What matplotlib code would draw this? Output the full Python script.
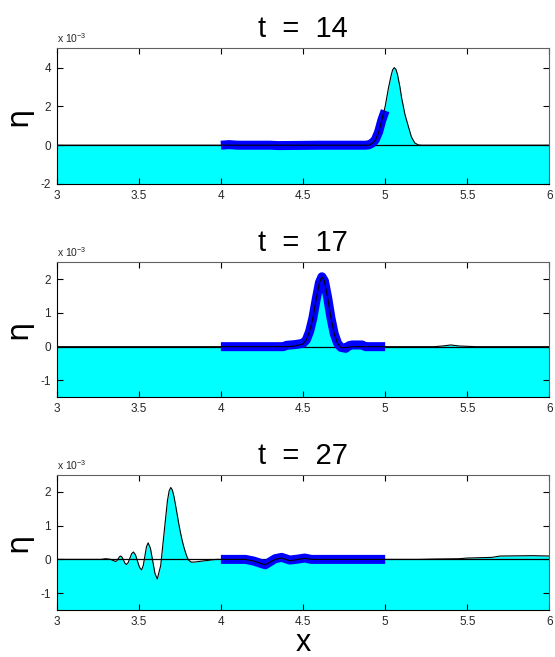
import matplotlib
matplotlib.use("Agg")
import matplotlib.pyplot as plt

plt.rcParams['font.family'] = ['Liberation Sans', 'DejaVu Sans']
plt.rcParams['mathtext.default'] = 'regular'

# surface elevation eta (units of 1e-3) at three times
x14 = [3.0, 4.90, 4.92, 4.94, 4.96, 4.98, 5.00, 5.02, 5.035, 5.045, 5.055, 5.065,
       5.075, 5.09, 5.10, 5.12, 5.14, 5.16, 5.18, 5.20, 5.22, 6.0]
eta14 = [0, 0, 0.08, 0.25, 0.65, 1.3, 2.0, 2.95, 3.55, 3.88, 4.0, 3.92,
         3.65, 3.0, 2.45, 1.6, 1.0, 0.42, 0.12, 0.02, 0, 0]

x17 = [3.0, 4.40, 4.45, 4.50, 4.52, 4.54, 4.56, 4.58, 4.60, 4.615, 4.63, 4.65,
       4.67, 4.69, 4.71, 4.73, 4.76, 4.80, 5.30, 5.35, 5.40, 5.45, 5.55, 6.0]
eta17 = [0, 0, 0.02, 0.08, 0.2, 0.45, 0.85, 1.4, 1.9, 2.07, 1.95, 1.45,
         0.85, 0.38, 0.1, -0.02, -0.03, 0, 0, 0.02, 0.05, 0.02, 0, 0]

x27 = [3.0, 3.27, 3.30, 3.33, 3.345, 3.36, 3.3675, 3.375, 3.3825, 3.39,
       3.399, 3.4075, 3.416, 3.425, 3.4355, 3.446, 3.4565, 3.467,
       3.4795, 3.492, 3.5045, 3.517, 3.527, 3.537, 3.547, 3.557,
       3.571, 3.585, 3.599, 3.613, 3.6335, 3.654, 3.6745, 3.685, 3.695,
       3.705, 3.715, 3.725, 3.735, 3.745, 3.755, 3.765, 3.775, 3.785, 3.795,
       3.805, 3.82, 3.84, 3.87, 3.92, 3.97,
       4.15, 4.20, 4.27, 4.33, 4.37, 4.42, 4.47, 4.51, 4.55,
       5.2, 5.3, 5.45, 5.5, 5.65, 5.7, 5.9, 6.0]
eta27 = [0, 0, 0.02, 0.0, -0.035, -0.06, -0.037, 0.02, 0.077, 0.10,
         0.063, -0.025, -0.113, -0.15, -0.096, 0.035, 0.166, 0.22,
         0.143, -0.045, -0.233, -0.31, -0.193, 0.09, 0.373, 0.49,
         0.334, -0.045, -0.424, -0.58, -0.184, 0.775, 1.734, 2.03, 2.13,
         2.05, 1.85, 1.58, 1.3, 1.02, 0.77, 0.55, 0.36, 0.2, 0.06,
         -0.03, -0.08, -0.08, -0.06, -0.03, 0,
         0, -0.05, -0.16, 0, 0.04, -0.04, 0, 0.03, 0,
         0, 0.01, 0.02, 0.04, 0.06, 0.1, 0.11, 0.1]

# thick blue segment on 4 <= x <= 5
bx14 = [4.0, 4.05, 4.1, 4.3, 4.35, 4.6, 4.88, 4.90, 4.92, 4.94, 4.96, 4.98, 5.0]
by14 = [0.0, 0.03, 0.0, 0.0, -0.02, 0.0, 0.0, 0.02, 0.1, 0.28, 0.68, 1.3, 1.78]

bx17 = [4.0, 4.38, 4.40, 4.45, 4.50, 4.52, 4.54, 4.56, 4.58, 4.60, 4.615, 4.63,
        4.65, 4.67, 4.69, 4.71, 4.73, 4.76, 4.78, 4.80, 4.86, 4.88, 5.0]
by17 = [0, 0, 0.04, 0.06, 0.1, 0.2, 0.45, 0.85, 1.4, 1.9, 2.07, 1.95,
        1.45, 0.85, 0.38, 0.1, -0.02, -0.05, 0.03, 0.05, 0.05, 0.0, 0.0]

bx27 = [4.0, 4.15, 4.20, 4.27, 4.33, 4.37, 4.42, 4.47, 4.51, 4.55, 4.7, 5.0]
by27 = [0, 0, -0.05, -0.16, 0.02, 0.06, -0.02, 0.01, 0.04, 0.0, 0.0, 0.0]

titles = ['t  =  14', 't  =  17', 't  =  27']
ylims = [(-2, 5), (-1.5, 2.5), (-1.5, 2.5)]
yticks = [[-2, 0, 2, 4], [-1, 0, 1, 2], [-1, 0, 1, 2]]
xticks = [3, 3.5, 4, 4.5, 5, 5.5, 6]
xticklabels = ['3', '3.5', '4', '4.5', '5', '5.5', '6']

panels = [(x14, eta14, bx14, by14), (x17, eta17, bx17, by17), (x27, eta27, bx27, by27)]
rects = [[0.102, 0.720, 0.888, 0.2065],
         [0.102, 0.3953, 0.888, 0.2055],
         [0.102, 0.0715, 0.888, 0.2055]]

fig = plt.figure(figsize=(5.55, 6.57), dpi=100)

for k in range(3):
    x, eta, bx, by = panels[k]
    ax = fig.add_axes(rects[k])
    lo, hi = ylims[k]
    ax.fill_between(x, lo, eta, color='#00ffff', linewidth=0, zorder=1)
    ax.axhline(0, color='black', linewidth=0.9, zorder=2)
    ax.plot(bx, by, color='#0000ff', linewidth=6.5, solid_capstyle='butt',
            solid_joinstyle='round', zorder=3)
    ax.plot(x, eta, color='black', linewidth=0.8, zorder=4)
    ax.set_xlim(3, 6)
    ax.set_ylim(lo, hi)
    ax.set_xticks(xticks)
    ax.set_xticklabels(xticklabels)
    ax.set_yticks(yticks[k])
    ax.set_yticklabels([str(v) for v in yticks[k]])
    ax.tick_params(direction='in', length=4, width=0.8, top=True, right=True,
                   labelsize=8.5, labelcolor='#262626', pad=4)
    for side in ['left', 'bottom']:
        ax.spines[side].set_color('black')
    for side in ['top', 'right']:
        ax.spines[side].set_color('#606060')
    ax.set_title(titles[k], fontsize=21, pad=8)
    ax.set_ylabel('η', fontsize=22, family=['DejaVu Sans'], labelpad=6)
    ax.text(0.0, 1.025, r'x 10$^{-3}$', transform=ax.transAxes, fontsize=7.5,
            color='#262626', ha='left', va='bottom')
    if k == 2:
        ax.set_xlabel('x', fontsize=22, labelpad=0)

fig.savefig('out.png', dpi=100)
